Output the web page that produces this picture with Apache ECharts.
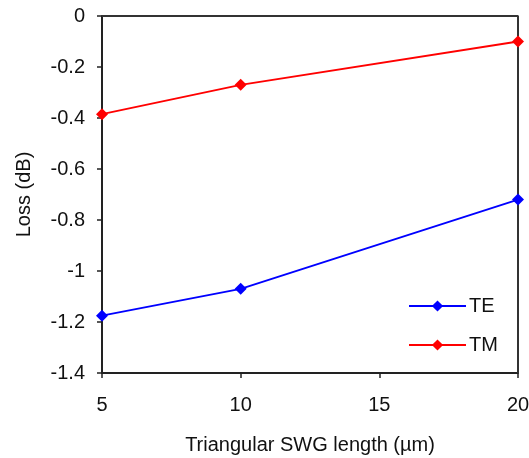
<!DOCTYPE html>
<html>
<head>
<meta charset="utf-8">
<script src="https://cdn.jsdelivr.net/npm/echarts@6/dist/echarts.min.js"></script>
<style>
  html, body { margin: 0; padding: 0; background: #fff; }
  #chart { width: 529px; height: 458px; }
</style>
</head>
<body>
<div id="chart"></div>
<script>
// SWG lengths (um)
var lengths = [5, 10, 20]
var teLoss = [-1.175, -1.07, -0.72]
var tmLoss = [-0.385, -0.27, -0.10]

var font = 'Liberation Sans, Arial, sans-serif'

function pairs (xs, ys) {
  let out = []
  for (let i = 0; i < xs.length; i++) {
    out.push([xs[i], ys[i]])
  }
  return out
}

var chart = echarts.init(document.getElementById('chart'))
chart.setOption({
  animation: false,
  textStyle: { fontFamily: font },
  grid: { left: 102, top: 16, right: 11, bottom: 85, containLabel: false, outerBoundsMode: 'none' },
  legend: {
    orient: 'vertical',
    left: 403,
    top: 291,
    itemWidth: 57,
    itemHeight: 14,
    itemGap: 19,
    textStyle: { fontFamily: font, fontSize: 20, color: '#111', padding: [0, 0, 0, -2] },
    data: ['TE', 'TM']
  },
  xAxis: {
    type: 'value',
    min: 5,
    max: 20,
    interval: 5,
    name: 'Triangular SWG length (\u00b5m)',
    nameLocation: 'middle',
    nameGap: 62,
    nameTextStyle: { fontSize: 20, color: '#111' },
    axisLine: { show: true, onZero: false, lineStyle: { color: '#222', width: 2 } },
    axisTick: { show: true, length: 5, lineStyle: { color: '#222', width: 1.5 } },
    axisLabel: { fontSize: 20, color: '#111', margin: 22 },
    splitLine: { show: false }
  },
  yAxis: {
    type: 'value',
    min: -1.4,
    max: 0,
    interval: 0.2,
    name: 'Loss (dB)',
    nameLocation: 'middle',
    nameGap: 68,
    nameRotate: 90,
    nameTextStyle: { fontSize: 20, color: '#111' },
    axisLine: { show: true, onZero: false, lineStyle: { color: '#222', width: 2 } },
    axisTick: { show: true, length: 5, lineStyle: { color: '#222', width: 1.5 } },
    axisLabel: {
      fontSize: 20,
      color: '#111',
      margin: 17,
      formatter: function (v) {
        let r = Math.round(v * 10) / 10
        return String(r)
      }
    },
    splitLine: { show: false }
  },
  series: [
    {
      name: 'TE',
      type: 'line',
      data: pairs(lengths, teLoss),
      symbol: 'diamond',
      symbolSize: 12,
      itemStyle: { color: '#0000ff' },
      lineStyle: { color: '#0000ff', width: 1.8 }
    },
    {
      name: 'TM',
      type: 'line',
      data: pairs(lengths, tmLoss),
      symbol: 'diamond',
      symbolSize: 12,
      itemStyle: { color: '#ff0000' },
      lineStyle: { color: '#ff0000', width: 1.8 }
    },
    {
      // frame on top and right
      type: 'line',
      data: [[5, 0], [20, 0], [20, -1.4]],
      symbol: 'none',
      silent: true,
      lineStyle: { color: '#333', width: 2 },
      z: 1
    }
  ]
})
</script>
</body>
</html>
